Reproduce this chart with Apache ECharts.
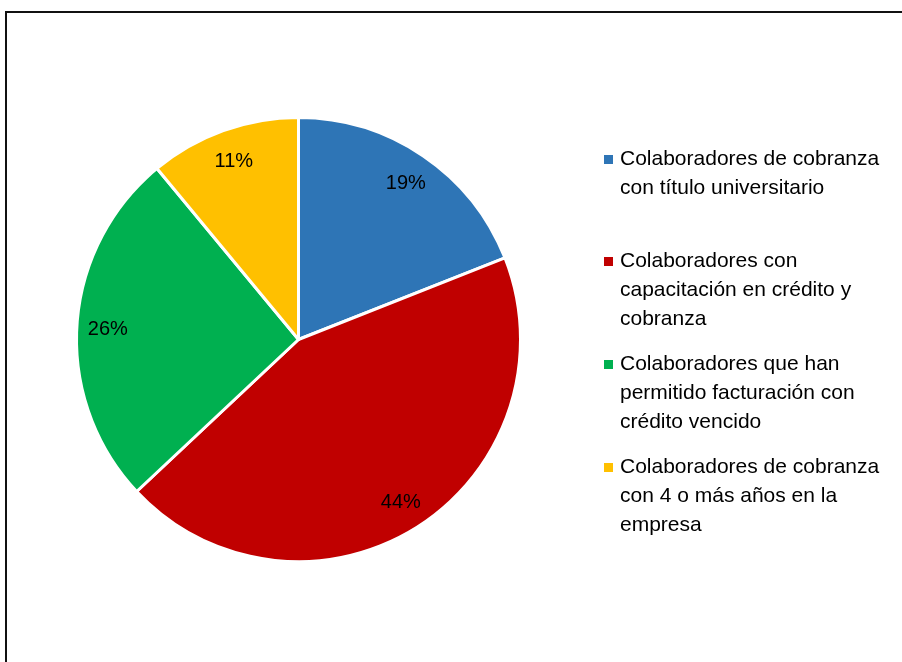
<!DOCTYPE html>
<html>
<head>
<meta charset="utf-8">
<script src="https://cdn.jsdelivr.net/npm/echarts@6/dist/echarts.min.js"></script>
<style>
  html, body { margin: 0; padding: 0; background: #fff; }
  #chart { width: 902px; height: 662px; }
</style>
</head>
<body>
<div id="chart"></div>
<script>
const categories = [
  'Colaboradores de cobranza con título universitario',
  'Colaboradores con capacitación en crédito y cobranza',
  'Colaboradores que han permitido facturación con crédito vencido',
  'Colaboradores de cobranza con 4 o más años en la empresa'
];
// legend text as wrapped in the picture
const legendLines = [
  ['Colaboradores de cobranza', 'con título universitario'],
  ['Colaboradores con', 'capacitación en crédito y', 'cobranza'],
  ['Colaboradores que han', 'permitido facturación con', 'crédito vencido'],
  ['Colaboradores de cobranza', 'con 4 o más años en la', 'empresa']
];
const values = [19, 44, 26, 11];
const colors = ['#2E75B6', '#C00000', '#00B050', '#FFC000'];
const legendTops = [145, 247, 350, 453];

const font = 'Liberation Sans, Arial, sans-serif';

const chart = echarts.init(document.getElementById('chart'));

const pieData = categories.map((name, i) => ({
  name: name,
  value: values[i],
  itemStyle: { color: colors[i] }
}));

const rich = { ind: { width: 16 }, t: { fontSize: 21, lineHeight: 29, color: '#000', fontFamily: font } };
colors.forEach((c, i) => {
  rich['sq' + i] = { width: 9, height: 9, backgroundColor: c, padding: 0 };
});

const legends = categories.map((name, i) => ({
  data: [name],
  orient: 'vertical',
  left: 599,
  top: legendTops[i],
  icon: 'none',
  itemWidth: 0,
  itemHeight: 10,
  padding: 0,
  formatter: () => legendLines[i]
    .map((line, j) => (j === 0 ? '{sq' + i + '|}{ind0|}' : '{ind|}') + '{t|' + line + '}')
    .join('\n'),
  textStyle: {
    fontFamily: font,
    fontSize: 21,
    lineHeight: 29,
    color: '#000',
    rich: Object.assign({ ind0: { width: 7 } }, rich)
  }
}));

chart.setOption({
  backgroundColor: '#fff',
  animation: false,
  graphic: [{
    type: 'rect',
    shape: { x: 6, y: 12, width: 1000, height: 1000 },
    style: { fill: 'none', stroke: '#111', lineWidth: 2 },
    silent: true
  }],
  legend: legends,
  series: [
    {
      name: 'main',
      type: 'pie',
      center: [298.5, 339.5],
      radius: [0, 222],
      startAngle: 90,
      clockwise: true,
      label: { show: false },
      labelLine: { show: false },
      itemStyle: { borderColor: '#fff', borderWidth: 3 },
      emphasis: { disabled: true },
      data: pieData
    },
    {
      name: 'labels',
      type: 'pie',
      center: [298.5, 341],
      radius: [154, 222],
      startAngle: 90,
      clockwise: true,
      silent: true,
      itemStyle: { color: 'rgba(0,0,0,0)', borderWidth: 0 },
      label: {
        show: true,
        position: 'inside',
        formatter: '{c}%',
        fontFamily: font,
        fontSize: 20,
        color: '#000'
      },
      labelLine: { show: false },
      emphasis: { disabled: true },
      data: categories.map((name, i) => ({ name: name, value: values[i] }))
    }
  ]
});
</script>
</body>
</html>
